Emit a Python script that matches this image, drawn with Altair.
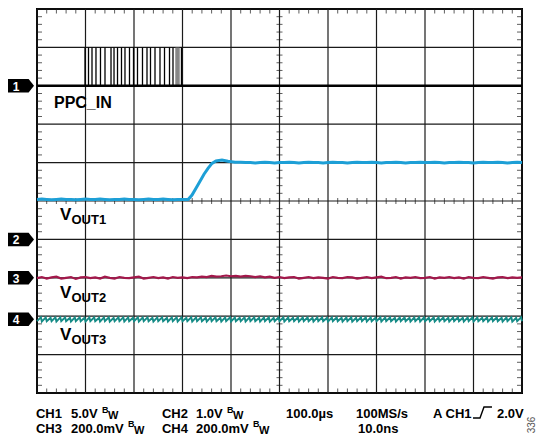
import altair as alt
import pandas as pd

# ---------------- data (screen divisions: x 0..10, y 0..10) ----------------
grid_lines = [0, 1, 2, 3, 4, 5, 6, 7, 8, 9, 10]
minor_pos = [i / 5 for i in range(1, 50) if i % 5 != 0]

# CH1 (PPC_IN) - black
ch1_level = 8.0
ch1_high = 9.0
ch1_pulse_x = [0.99, 1.062, 1.134, 1.216, 1.309, 1.402, 1.526, 1.588, 1.660,
               1.742, 1.814, 1.907, 1.990, 2.072, 2.175, 2.268, 2.340, 2.433,
               2.536, 2.629, 2.732, 2.804, 2.866, 2.887, 2.907, 2.928, 2.979]
ch1_pulse_color = ["#000000"] * 22 + ["#777777"] * 4 + ["#000000"]

# CH2 (VOUT1) - blue
ch2_pre_y = [5.04, 5.05, 5.04, 5.03, 5.04, 5.05, 5.04, 5.04, 5.03, 5.04,
             5.05, 5.04, 5.04, 5.05, 5.04, 5.03, 5.04, 5.04, 5.05, 5.04,
             5.04, 5.03, 5.04, 5.05, 5.04, 5.04, 5.05, 5.04, 5.03, 5.04,
             5.04, 5.04]
ch2_rise_x = [3.12, 3.196, 3.278, 3.361, 3.443, 3.526, 3.608, 3.691, 3.814, 3.938, 4.082]
ch2_rise_y = [5.044, 5.155, 5.335, 5.515, 5.696, 5.851, 5.979, 6.044, 6.070, 6.035, 6.010]
ch2_post_y = [6.01, 6.00, 6.00, 5.99, 6.00, 6.01, 6.00, 5.99, 6.00, 6.00,
              6.01, 6.00, 5.99, 6.00, 6.01, 6.00, 6.00, 5.99, 6.00, 6.01,
              6.00, 6.00, 5.99, 6.00, 6.01, 6.00, 6.00, 6.01, 6.00, 5.99,
              6.00, 6.00, 6.01, 6.00, 5.99, 6.00, 6.00, 6.01, 6.00, 6.00,
              6.01, 6.00, 5.99, 6.00, 6.00, 6.01, 6.00, 6.00, 5.99, 6.00,
              6.01, 6.00, 6.00, 6.01, 6.00, 5.99, 6.00, 6.01, 6.00]

# CH3 (VOUT2) - crimson
ch3_y = [2.99, 3.02, 2.98, 3.01, 3.03, 2.98, 3.00, 3.02, 2.97, 3.01,
         3.02, 2.99, 3.01, 2.98, 3.03, 3.00, 2.98, 3.02, 3.00, 2.99,
         3.01, 3.03, 2.98, 3.00, 3.02, 2.99, 3.01, 2.98, 3.02, 3.00,
         3.01, 2.99, 3.02, 3.01, 3.03, 3.02, 3.05, 3.03, 3.04, 3.06,
         3.04, 3.05, 3.03, 3.05, 3.04, 3.02, 3.04, 3.01, 3.03, 3.00,
         3.02, 2.99, 3.01, 3.02, 2.98, 3.00, 3.02, 2.99, 3.01, 3.00,
         2.98, 3.02, 3.00, 2.99, 3.02, 3.01, 2.98, 3.00, 3.02, 2.99,
         3.01, 3.03, 2.99, 3.00, 3.02, 2.98, 3.01, 3.00, 3.02, 2.99,
         3.00, 3.02, 2.98, 3.01, 3.00, 3.02, 2.99, 3.01, 2.98, 3.02,
         3.00, 2.99, 3.02, 3.00, 2.98, 3.01, 3.02, 2.99, 3.01, 3.00,
         3.01]

# CH4 (VOUT3) - teal sawtooth ripple (trough, crest, trough, crest ...)
ch4_y = [1.87, 1.97, 1.86, 1.97, 1.87, 1.96, 1.87, 1.97, 1.86, 1.97, 1.87, 1.97, 1.87, 1.96, 1.86, 1.97, 1.87, 1.97, 1.87, 1.96,
         1.86, 1.97, 1.87, 1.97, 1.87, 1.96, 1.86, 1.97, 1.87, 1.97, 1.86, 1.96, 1.87, 1.97, 1.87, 1.97, 1.86, 1.97, 1.87, 1.96,
         1.87, 1.97, 1.86, 1.97, 1.87, 1.97, 1.87, 1.96, 1.86, 1.97, 1.87, 1.97, 1.87, 1.96, 1.86, 1.97, 1.87, 1.97, 1.86, 1.97,
         1.87, 1.96, 1.87, 1.97, 1.86, 1.97, 1.87, 1.97, 1.87, 1.96, 1.86, 1.97, 1.87, 1.97, 1.87, 1.96, 1.86, 1.97, 1.87, 1.97,
         1.86, 1.97, 1.87, 1.96, 1.87, 1.97, 1.86, 1.97, 1.87, 1.97, 1.87, 1.96, 1.86, 1.97, 1.87, 1.97, 1.86, 1.96, 1.87, 1.97,
         1.87, 1.97, 1.86, 1.97, 1.87, 1.96, 1.87, 1.97, 1.86, 1.97, 1.87, 1.97, 1.87, 1.96, 1.86, 1.97, 1.87, 1.97, 1.87, 1.96,
         1.86, 1.97, 1.87, 1.97, 1.87, 1.96, 1.86, 1.97, 1.87, 1.97, 1.86, 1.96, 1.87, 1.97, 1.87, 1.97, 1.86, 1.97, 1.87, 1.96,
         1.87, 1.97, 1.86, 1.97, 1.87, 1.97, 1.87, 1.96, 1.86, 1.97, 1.87, 1.97, 1.87, 1.96, 1.86, 1.97, 1.87, 1.97, 1.86, 1.97,
         1.87, 1.96, 1.87, 1.97, 1.86, 1.97, 1.87, 1.97, 1.87, 1.96, 1.86, 1.97, 1.87, 1.97, 1.87, 1.96, 1.86, 1.97, 1.87, 1.97,
         1.86, 1.97, 1.87, 1.96, 1.87, 1.97, 1.86, 1.97, 1.87, 1.97, 1.87, 1.96, 1.86, 1.97, 1.87, 1.97, 1.86, 1.96, 1.87, 1.97,
         1.87]

# channel markers at the left edge
marker_label = ["1", "2", "3", "4"]
marker_level = [8.0, 4.0, 3.0, 1.92]

# in-screen trace labels
label_text = ["PPC_IN", "V", "OUT1", "V", "OUT2", "V", "OUT3"]
label_x = [0.35, 0.474, 0.711, 0.474, 0.711, 0.474, 0.711]
label_y = [7.42, 4.51, 4.407, 2.474, 2.371, 1.392, 1.289]
label_size = [16, 17, 13, 17, 13, 17, 13]

# readout text under the screen
read_text = ["CH1", "5.0V", "CH2", "1.0V", "100.0µs", "100MS/s", "A CH1", "2.0V",
             "CH3", "200.0mV", "CH4", "200.0mV", "10.0ns",
             "B", "B", "B", "B", "W", "W", "W", "W"]
read_x = [-0.021, 0.701, 2.577, 3.278, 5.134, 6.577, 8.165, 9.485,
          -0.021, 0.701, 2.577, 3.278, 6.619,
          1.340, 3.918, 1.876, 4.454, 1.464, 4.041, 2.0, 4.577]
read_y = [-0.651] * 8 + [-1.042] * 5 + [-0.521, -0.521, -0.885, -0.885, -0.677, -0.677, -1.068, -1.068]
read_size = [13] * 13 + [9] * 4 + [11] * 4

# trigger edge glyph
trig_x = [8.990, 9.134, 9.216, 9.381]
trig_y = [-0.651, -0.651, -0.365, -0.365]

fig_code = "336"

# ---------------- build tables ----------------
xs = alt.Scale(domain=[0, 10], nice=False, zero=False)
ys = alt.Scale(domain=[0, 10], nice=False, zero=False)


def X(f="x"):
    return alt.X(f"{f}:Q", scale=xs, axis=None)


def Y(f="y"):
    return alt.Y(f"{f}:Q", scale=ys, axis=None)


vgrid = pd.DataFrame({"x": grid_lines, "y": 0, "y2": 10})
hgrid = pd.DataFrame({"y": grid_lines, "x": 0, "x2": 10})

tick_v = pd.DataFrame({"x": minor_pos * 2, "y": [0] * len(minor_pos) + [10] * len(minor_pos)})
tick_h = pd.DataFrame({"y": minor_pos * 2, "x": [0] * len(minor_pos) + [10] * len(minor_pos)})
cross_v = pd.DataFrame({"x": minor_pos, "y": 5})
cross_h = pd.DataFrame({"y": minor_pos, "x": 5})

ch1_df = pd.DataFrame({"x": [0, 10], "y": [ch1_level, ch1_level]})
pulse_df = pd.DataFrame({"x": ch1_pulse_x, "y": ch1_level, "y2": ch1_high, "c": ch1_pulse_color})

ch2_x = [i / 10 for i in range(32)] + ch2_rise_x + [i / 10 for i in range(42, 101)]
ch2_df = pd.DataFrame({"x": ch2_x, "y": ch2_pre_y + ch2_rise_y + ch2_post_y})
ch2_df["i"] = range(len(ch2_df))

ch3_df = pd.DataFrame({"x": [i / 10 for i in range(101)], "y": ch3_y})
ch3_df["i"] = range(len(ch3_df))

ch4_x = []
for k in range(100):
    ch4_x += [k / 10, k / 10 + 0.08]
ch4_x.append(10.0)
ch4_df = pd.DataFrame({"x": ch4_x, "y": ch4_y})
ch4_df["i"] = range(len(ch4_df))

marker_df = pd.DataFrame({"x": -0.34, "y": marker_level, "t": marker_label, "tx": -0.43})

labels_df = pd.DataFrame({"x": label_x, "y": label_y, "t": label_text, "fs": label_size})
read_df = pd.DataFrame({"x": read_x, "y": read_y, "t": read_text, "fs": read_size})
trig_df = pd.DataFrame({"x": trig_x, "y": trig_y, "i": range(4)})
code_df = pd.DataFrame({"x": [10.206], "y": [-0.833], "t": [fig_code]})

FONT = "Liberation Sans"
GRID = "#1a1a1a"

layers = [
    alt.Chart(vgrid).mark_rule(color=GRID, strokeWidth=1.2).encode(x=X(), y=Y(), y2="y2"),
    alt.Chart(hgrid).mark_rule(color=GRID, strokeWidth=1.2).encode(y=Y(), x=X(), x2="x2"),
    alt.Chart(tick_v).mark_tick(orient="vertical", size=9, thickness=1, color=GRID, clip=True).encode(x=X(), y=Y()),
    alt.Chart(tick_h).mark_tick(orient="horizontal", size=10, thickness=1, color=GRID, clip=True).encode(x=X(), y=Y()),
    alt.Chart(cross_v).mark_tick(orient="vertical", size=6, thickness=1, color=GRID).encode(x=X(), y=Y()),
    alt.Chart(cross_h).mark_tick(orient="horizontal", size=6, thickness=1, color=GRID).encode(x=X(), y=Y()),
    # traces
    alt.Chart(ch2_df).mark_line(color="#1d9fd6", strokeWidth=3).encode(x=X(), y=Y(), order="i:Q"),
    alt.Chart(ch3_df).mark_line(color="#a3184b", strokeWidth=2.2).encode(x=X(), y=Y(), order="i:Q"),
    alt.Chart(ch4_df).mark_line(color="#168b86", strokeWidth=1.9).encode(x=X(), y=Y(), order="i:Q"),
    alt.Chart(pulse_df).mark_rule(strokeWidth=1.3).encode(
        x=X(), y=Y(), y2="y2", color=alt.Color("c:N", scale=None)),
    alt.Chart(ch1_df).mark_line(color="#000000", strokeWidth=2.5).encode(x=X(), y=Y()),
    # channel markers
    alt.Chart(marker_df).mark_point(
        shape="M-1,-0.5L0.6,-0.5L1,0L0.6,0.5L-1,0.5Z", size=729, filled=True,
        color="#000000", opacity=1, strokeWidth=0).encode(x=X(), y=Y()),
    alt.Chart(marker_df).mark_text(
        align="center", baseline="middle", font=FONT, fontWeight="bold", fontSize=12,
        color="#ffffff", dy=1).encode(x=X("tx"), y=Y(), text="t:N"),
    # labels
    alt.Chart(labels_df).mark_text(
        align="left", baseline="alphabetic", font=FONT, fontWeight="bold", color="#000000").encode(
        x=X(), y=Y(), text="t:N", size=alt.Size("fs:Q", scale=None, legend=None)),
    alt.Chart(read_df).mark_text(
        align="left", baseline="alphabetic", font=FONT, fontWeight="bold", color="#000000").encode(
        x=X(), y=Y(), text="t:N", size=alt.Size("fs:Q", scale=None, legend=None)),
    alt.Chart(trig_df).mark_line(color="#000000", strokeWidth=1.4).encode(x=X(), y=Y(), order="i:Q"),
    alt.Chart(code_df).mark_text(
        angle=270, align="center", baseline="middle", font=FONT, fontSize=10, color="#555555").encode(
        x=X(), y=Y(), text="t:N"),
]

chart = alt.layer(*layers).properties(
    width=485,
    height=384,
    padding={"left": 29, "top": 1, "right": 15, "bottom": 44},
    autosize=alt.AutoSizeParams(type="none"),
    background="#ffffff",
).configure_view(stroke="#000000", strokeWidth=2)

chart.save("out.html", embed_options={"renderer": "svg", "actions": False})
